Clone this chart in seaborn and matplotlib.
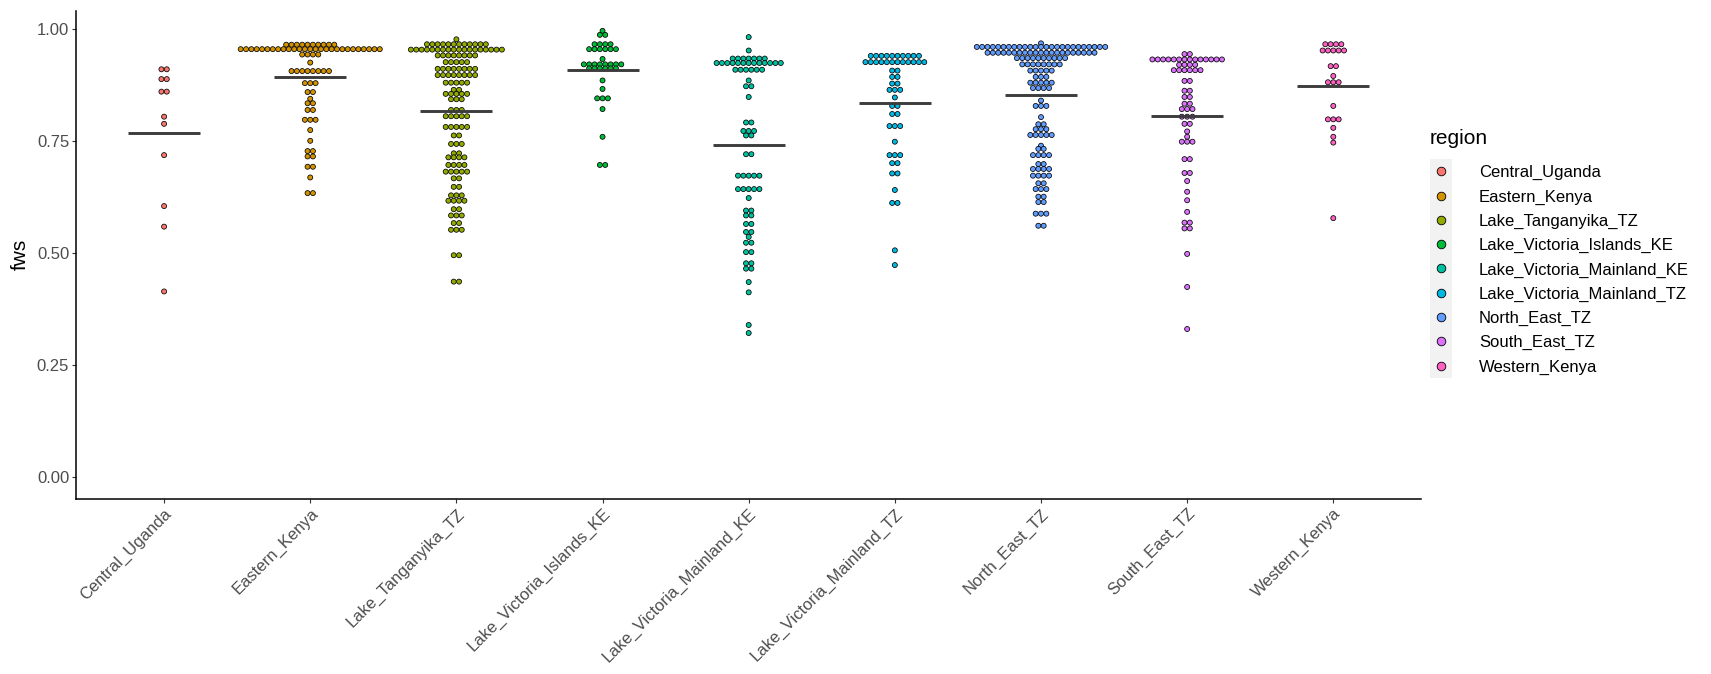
import numpy as np
import pandas as pd
import matplotlib
matplotlib.use("Agg")
import matplotlib.pyplot as plt
from matplotlib.lines import Line2D
from matplotlib.patches import Rectangle
import seaborn as sns

# ---------------------------------------------------------------------------
# Regions and their fill colours
# ---------------------------------------------------------------------------
regions = [
    "Central_Uganda", "Eastern_Kenya", "Lake_Tanganyika_TZ",
    "Lake_Victoria_Islands_KE", "Lake_Victoria_Mainland_KE",
    "Lake_Victoria_Mainland_TZ", "North_East_TZ", "South_East_TZ",
    "Western_Kenya",
]
region_colors = ["#F8766D", "#D39200", "#93AA00", "#00BA38", "#00C19F",
                 "#00B9E3", "#619CFF", "#DB72FB", "#FF61C3"]

# ---------------------------------------------------------------------------
# Fws per sample, grouped into dot-plot bins: bin value and sample count
# ---------------------------------------------------------------------------
central_uganda_fws = [0.911, 0.889, 0.861, 0.805, 0.789, 0.719, 0.605, 0.559, 0.414]
central_uganda_n = [2, 2, 2, 1, 1, 1, 1, 1, 1]

eastern_kenya_fws = [0.966, 0.956, 0.944, 0.926, 0.907, 0.880, 0.860, 0.845, 0.835,
                     0.820, 0.798, 0.775, 0.751, 0.728, 0.716, 0.693, 0.669, 0.634]
eastern_kenya_n = [10, 27, 4, 1, 8, 3, 2, 1, 2, 2, 3, 1, 1, 2, 2, 2, 1, 2]

lake_tanganyika_fws = [0.978, 0.967, 0.955, 0.942, 0.927, 0.912, 0.898, 0.881, 0.865,
                       0.856, 0.844, 0.820, 0.806, 0.782, 0.763, 0.744, 0.723, 0.714,
                       0.697, 0.682, 0.667, 0.648, 0.629, 0.617, 0.598, 0.584, 0.567,
                       0.552, 0.495, 0.436]
lake_tanganyika_n = [1, 12, 18, 8, 5, 8, 8, 5, 2, 5, 3, 3, 5, 5, 2, 3, 2, 4, 4, 5,
                     2, 2, 3, 4, 2, 3, 2, 3, 2, 2]

lv_islands_ke_fws = [0.997, 0.988, 0.967, 0.956, 0.934, 0.922, 0.913, 0.886, 0.867,
                     0.846, 0.822, 0.760, 0.697]
lv_islands_ke_n = [1, 2, 4, 6, 1, 8, 6, 1, 1, 3, 1, 1, 2]

lv_mainland_ke_fws = [0.983, 0.953, 0.935, 0.925, 0.910, 0.886, 0.873, 0.849, 0.792,
                      0.773, 0.763, 0.721, 0.673, 0.643, 0.623, 0.595, 0.584, 0.565,
                      0.547, 0.536, 0.523, 0.502, 0.477, 0.465, 0.435, 0.412, 0.339,
                      0.321]
lv_mainland_ke_n = [1, 1, 7, 13, 6, 1, 2, 1, 2, 3, 2, 2, 5, 5, 1, 2, 2, 2, 2, 1,
                    2, 2, 2, 2, 1, 1, 1, 1]

lv_mainland_tz_fws = [0.941, 0.927, 0.908, 0.894, 0.879, 0.865, 0.848, 0.829, 0.811,
                      0.784, 0.749, 0.719, 0.701, 0.678, 0.641, 0.612, 0.506, 0.473]
lv_mainland_tz_n = [10, 12, 2, 2, 2, 3, 1, 2, 2, 3, 1, 3, 2, 2, 1, 2, 1, 1]

north_east_tz_fws = [0.969, 0.961, 0.948, 0.936, 0.922, 0.908, 0.894, 0.881, 0.869,
                     0.841, 0.829, 0.804, 0.788, 0.777, 0.764, 0.740, 0.733, 0.719,
                     0.699, 0.688, 0.673, 0.656, 0.643, 0.626, 0.614, 0.588, 0.561]
north_east_tz_n = [1, 25, 21, 10, 8, 5, 3, 5, 4, 1, 3, 1, 2, 3, 5, 1, 2, 4, 2, 4,
                   4, 2, 3, 2, 2, 3, 2]

south_east_tz_fws = [0.945, 0.933, 0.921, 0.909, 0.885, 0.863, 0.849, 0.834, 0.822,
                     0.805, 0.789, 0.772, 0.760, 0.749, 0.710, 0.679, 0.661, 0.637,
                     0.618, 0.592, 0.568, 0.555, 0.498, 0.424, 0.330]
south_east_tz_n = [2, 14, 4, 6, 2, 2, 2, 2, 3, 3, 2, 1, 1, 3, 2, 2, 1, 1, 1, 1,
                   2, 2, 1, 1, 1]

western_kenya_fws = [0.967, 0.953, 0.918, 0.896, 0.882, 0.829, 0.799, 0.780, 0.760,
                     0.747, 0.578]
western_kenya_n = [4, 5, 2, 1, 3, 1, 3, 1, 1, 1, 1]

bins = {
    "Central_Uganda": (central_uganda_fws, central_uganda_n),
    "Eastern_Kenya": (eastern_kenya_fws, eastern_kenya_n),
    "Lake_Tanganyika_TZ": (lake_tanganyika_fws, lake_tanganyika_n),
    "Lake_Victoria_Islands_KE": (lv_islands_ke_fws, lv_islands_ke_n),
    "Lake_Victoria_Mainland_KE": (lv_mainland_ke_fws, lv_mainland_ke_n),
    "Lake_Victoria_Mainland_TZ": (lv_mainland_tz_fws, lv_mainland_tz_n),
    "North_East_TZ": (north_east_tz_fws, north_east_tz_n),
    "South_East_TZ": (south_east_tz_fws, south_east_tz_n),
    "Western_Kenya": (western_kenya_fws, western_kenya_n),
}

# ---------------------------------------------------------------------------
# Figure geometry (pixels at 100 dpi)
# ---------------------------------------------------------------------------
W, H, DPI = 1711, 674, 100
ax_left, ax_right, ax_top, ax_bottom = 76.4, 1421.0, 10.9, 498.7
dot_px = 5.35                                   # centre-to-centre spacing of stacked dots
cat_px = (ax_right - ax_left) / (len(regions) - 1 + 1.2)
dot_step = dot_px / cat_px                      # same spacing in category units

# centred horizontal stacking, as in a dot plot with stackdir = "center"
rows = []
for i, reg in enumerate(regions):
    vals, counts = bins[reg]
    for v, n in zip(vals, counts):
        for k in range(n):
            rows.append({"region": reg, "fws": v,
                         "xpos": i + (k - (n - 1) / 2) * dot_step})
df = pd.DataFrame(rows)

sns.set_theme(style="ticks")
plt.rcParams["font.family"] = ["Liberation Sans", "DejaVu Sans"]

fig = plt.figure(figsize=(W / DPI, H / DPI), dpi=DPI)
ax = fig.add_axes([ax_left / W, 1 - ax_bottom / H,
                   (ax_right - ax_left) / W, (ax_bottom - ax_top) / H])

palette = dict(zip(regions, region_colors))
sns.scatterplot(data=df, x="xpos", y="fws", hue="region", hue_order=regions,
                palette=palette, s=13, edgecolor="black", linewidth=0.55,
                legend=False, ax=ax, zorder=2)

# group means as short horizontal bars
sns.pointplot(data=df, x="region", y="fws", order=regions, estimator="mean",
              errorbar=None, color="#3c3c3c", marker="_", markersize=52.5,
              markeredgewidth=2.1, linestyle="none", ax=ax, zorder=3)

ax.set_xlim(-0.6, len(regions) - 1 + 0.6)
ax.set_ylim(-0.0496, 1.0416)
ax.set_xticks(range(len(regions)))
ax.set_xticklabels(regions, rotation=45, ha="right", va="top",
                   rotation_mode="anchor")
ax.set_yticks([0, 0.25, 0.5, 0.75, 1.0])
ax.set_yticklabels(["0.00", "0.25", "0.50", "0.75", "1.00"])
ax.set_xlabel("")
ax.set_ylabel("fws", fontsize=15, color="black", labelpad=5)

for side in ("top", "right"):
    ax.spines[side].set_visible(False)
for side in ("left", "bottom"):
    ax.spines[side].set_linewidth(1.1)
    ax.spines[side].set_color("black")
ax.tick_params(axis="both", length=2.7, width=0.8, color="#333333",
               labelsize=12, labelcolor="#4D4D4D", pad=2.5)
ax.grid(False)

# ---------------------------------------------------------------------------
# Legend: title, light grey key column, one filled circle per region
# ---------------------------------------------------------------------------
key_x0, key_x1 = 1429.5, 1451.5
row_y0, row_h = 171.3, 24.28
label_x = 1479.0


def fx(px):
    return px / W


def fy(py):
    return 1 - py / H


fig.text(fx(key_x0), fy(138.6), "region", fontsize=15, color="black",
         ha="left", va="center")
fig.add_artist(Rectangle((fx(key_x0), fy(row_y0 - row_h / 2 + row_h * len(regions))),
                         (key_x1 - key_x0) / W, row_h * len(regions) / H,
                         transform=fig.transFigure, facecolor="#F2F2F2",
                         edgecolor="none", zorder=0))
for i, (reg, col) in enumerate(zip(regions, region_colors)):
    yc = row_y0 + i * row_h
    fig.add_artist(Line2D([fx((key_x0 + key_x1) / 2)], [fy(yc)],
                          transform=fig.transFigure, linestyle="none",
                          marker="o", markersize=6.2, markerfacecolor=col,
                          markeredgecolor="black", markeredgewidth=0.6,
                          zorder=2))
    fig.text(fx(label_x), fy(yc), reg, fontsize=12, color="black",
             ha="left", va="center_baseline")

fig.savefig("out.png", dpi=DPI)
